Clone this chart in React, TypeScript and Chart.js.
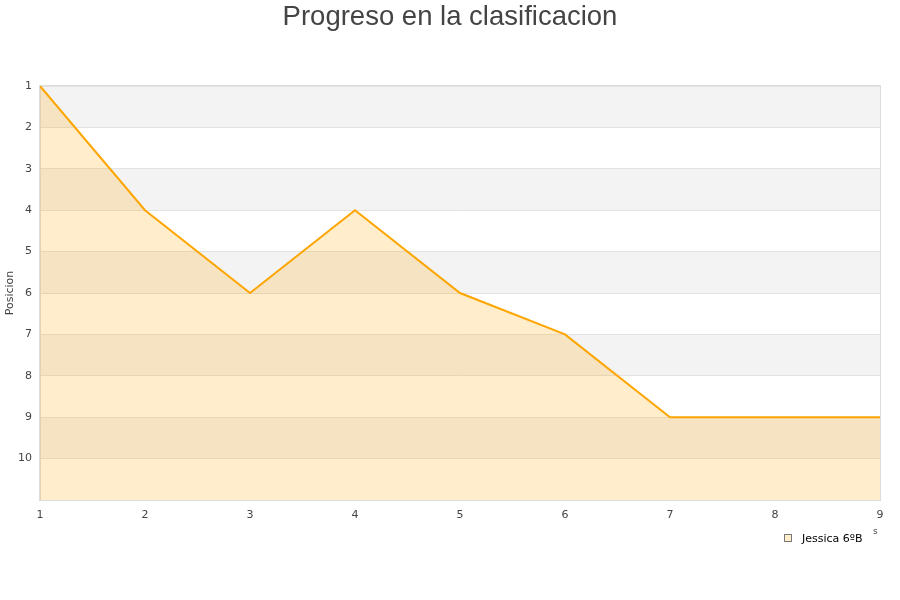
import React, { useEffect, useRef } from "react";
import { Chart, registerables } from "chart.js";

Chart.register(...registerables);

const jornadas = ["1", "2", "3", "4", "5", "6", "7", "8", "9"];
const posiciones = [1, 4, 6, 4, 6, 7, 9, 9, 9];
const serieNombre = "Jessica 6ºB";
const titulo = "Progreso en la clasificacion";
const ejeY = "Posicion";

const TICK_FONT = "'DejaVu Sans', sans-serif";

// Alternating grey bands behind the plot, plus title and legend drawn by hand
const decorPlugin = {
  id: "decor",
  beforeDraw(chart: any) {
    const { ctx, chartArea } = chart;
    const y = chart.scales.y;
    ctx.save();
    ctx.fillStyle = "#f3f3f3";
    for (let v = 1; v < 11; v += 2) {
      const a = y.getPixelForValue(v);
      const b = y.getPixelForValue(v + 1);
      ctx.fillRect(chartArea.left, a, chartArea.right - chartArea.left, b - a);
    }
    ctx.restore();
  },
  afterDraw(chart: any) {
    const { ctx, chartArea } = chart;
    ctx.save();
    // plot frame
    ctx.strokeStyle = "#dddddd";
    ctx.lineWidth = 1;
    ctx.strokeRect(chartArea.left - 0.5, chartArea.top - 0.5, chartArea.right - chartArea.left + 1, chartArea.bottom - chartArea.top + 1);
    // title
    ctx.fillStyle = "#444444";
    ctx.font = "27.5px 'Liberation Sans', Arial, sans-serif";
    ctx.textAlign = "center";
    ctx.textBaseline = "alphabetic";
    ctx.fillText(titulo, 450, 25);
    // legend
    ctx.fillStyle = "rgba(255,165,0,0.2)";
    ctx.fillRect(784.5, 534.5, 7, 7);
    ctx.strokeStyle = "#777777";
    ctx.strokeRect(784.5, 534.5, 7, 7);
    ctx.fillStyle = "#000000";
    ctx.font = "11px " + TICK_FONT;
    ctx.textAlign = "left";
    ctx.fillText(serieNombre, 802, 542);
    // clipped axis caption remnant
    ctx.fillStyle = "#444444";
    ctx.font = "9px " + TICK_FONT;
    ctx.fillText("s", 873, 534);
    ctx.restore();
  },
};

export default function App() {
  const ref = useRef<HTMLCanvasElement>(null);

  useEffect(() => {
    document.body.style.margin = "0";
    const canvas = ref.current;
    if (!canvas) return;
    const chart = new Chart(canvas, {
      type: "line",
      data: {
        labels: jornadas,
        datasets: [
          {
            label: serieNombre,
            data: posiciones,
            borderColor: "#ffa500",
            backgroundColor: "rgba(255,165,0,0.2)",
            borderWidth: 2,
            pointRadius: 0,
            tension: 0,
            fill: { value: 11 },
          },
        ],
      },
      options: {
        responsive: false,
        animation: false,
        layout: { padding: { top: 86, right: 20, left: 0, bottom: 0 } },
        plugins: {
          legend: { display: false },
          title: { display: false },
          tooltip: { enabled: false },
        },
        scales: {
          x: {
            offset: false,
            grid: { display: false, drawTicks: false },
            border: { color: "#dddddd" },
            ticks: {
              color: "#444444",
              font: { family: TICK_FONT, size: 11 },
              padding: 9,
              maxRotation: 0,
            },
            afterFit(scale: any) {
              scale.height = 100;
            },
          },
          y: {
            reverse: true,
            min: 1,
            max: 11,
            grid: { color: "#e2e2e2", drawTicks: false },
            border: { color: "#dddddd" },
            ticks: {
              stepSize: 1,
              color: "#444444",
              font: { family: TICK_FONT, size: 11 },
              padding: 8,
              callback: (v: any) => (v >= 11 ? "" : String(v)),
            },
            title: {
              display: true,
              text: ejeY,
              color: "#444444",
              font: { family: TICK_FONT, size: 11 },
              padding: { top: 4, bottom: 0 },
            },
            afterFit(scale: any) {
              scale.width = 40;
            },
          },
        },
      },
      plugins: [decorPlugin],
    });
    return () => chart.destroy();
  }, []);

  return <canvas ref={ref} width={900} height={600} style={{ display: "block" }} />;
}
